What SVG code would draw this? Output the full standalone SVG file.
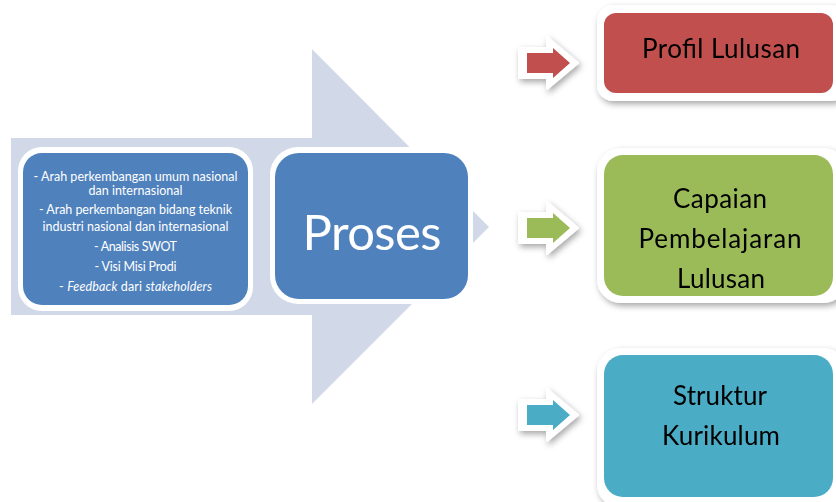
<svg xmlns="http://www.w3.org/2000/svg" width="836" height="502" viewBox="0 0 836 502">
  <defs>
    <filter id="shadow" x="-10%" y="-10%" width="130%" height="140%">
      <feDropShadow dx="2" dy="3" stdDeviation="3" flood-color="#000" flood-opacity="0.35"/>
    </filter>
    <!-- block arrow: white outline with coloured body, origin at tail centre -->
    <polygon id="arrowOutline" points="-8,-15 20,-15 20,-26 51,0 20,26 20,15 -8,15"/>
    <polygon id="arrowBody" points="0,-10 26,-10 26,-15 43,0 26,15 26,10 0,10"/>
  </defs>
  <style>
    .bg { fill: #ffffff; }
    .bigArrow { fill: #d1d9e8; }
    .frame { fill: #ffffff; }
    .blue { fill: #4f81bd; }
    .txtW { fill: #ffffff; font-family: Lato, "Open Sans", sans-serif; text-anchor: middle; }
    .txtK { fill: #000000; font-family: Lato, "Open Sans", sans-serif; text-anchor: middle; font-size: 26px; }
    .small { font-size: 12.5px; }
    .outline { fill: #ffffff; stroke: #ffffff; stroke-width: 2; stroke-linejoin: round; }
  </style>

  <rect class="bg" x="0" y="0" width="836" height="502"/>

  <!-- large background process arrow -->
  <polygon class="bigArrow" points="11,138 312,138 312,49 489,227 312,404 312,315 11,315"/>

  <!-- input node -->
  <g id="input">
    <rect class="frame" x="18" y="147" width="235" height="164" rx="24"/>
    <rect class="blue" x="23" y="153" width="225" height="152" rx="19"/>
    <text class="txtW small" x="135.5" y="181" textLength="204">- Arah perkembangan umum nasional</text>
    <text class="txtW small" x="135.5" y="194.5" textLength="94">dan internasional</text>
    <text class="txtW small" x="135.5" y="214" textLength="193">- Arah perkembangan bidang teknik</text>
    <text class="txtW small" x="135.5" y="230.5" textLength="186">industri nasional dan internasional</text>
    <text class="txtW small" x="135.5" y="250.5" textLength="83">- Analisis SWOT</text>
    <text class="txtW small" x="135.5" y="270.5" textLength="82">- Visi Misi Prodi</text>
    <text class="txtW small" x="135.5" y="290.5" textLength="153">- <tspan font-style="italic">Feedback</tspan> dari <tspan font-style="italic">stakeholders</tspan></text>
  </g>

  <!-- process node -->
  <g id="proses">
    <rect class="frame" x="270" y="147" width="203" height="157" rx="28"/>
    <rect class="blue" x="275" y="153" width="193" height="146" rx="24"/>
    <text class="txtW" x="372" y="250" font-size="49" textLength="139">Proses</text>
  </g>

  <!-- output nodes -->
  <g id="profil-lulusan" filter="url(#shadow)">
    <rect class="frame" x="597" y="5" width="250" height="96" rx="16"/>
    <rect x="604" y="13" width="229" height="80" rx="12" fill="#c0504d"/>
    <text class="txtK" x="721" y="58" textLength="158">Profil Lulusan</text>
  </g>

  <g id="capaian-pembelajaran" filter="url(#shadow)">
    <rect class="frame" x="597" y="148" width="250" height="155" rx="24"/>
    <rect x="604" y="155" width="229" height="141" rx="19" fill="#9bbb59"/>
    <text class="txtK" x="720" y="208" textLength="94">Capaian</text>
    <text class="txtK" x="720" y="248" textLength="163">Pembelajaran</text>
    <text class="txtK" x="721" y="288" textLength="88">Lulusan</text>
  </g>

  <g id="struktur-kurikulum" filter="url(#shadow)">
    <rect class="frame" x="597" y="348" width="250" height="160" rx="24"/>
    <rect x="604" y="355" width="229" height="142" rx="19" fill="#4bacc6"/>
    <text class="txtK" x="720" y="405" textLength="94">Struktur</text>
    <text class="txtK" x="721" y="445" textLength="118">Kurikulum</text>
  </g>

  <!-- connectors -->
  <g id="connectors">
    <g transform="translate(527,63)" filter="url(#shadow)">
      <use href="#arrowOutline" class="outline"/>
      <use href="#arrowBody" fill="#c0504d"/>
    </g>
    <g transform="translate(527,228)" filter="url(#shadow)">
      <use href="#arrowOutline" class="outline"/>
      <use href="#arrowBody" fill="#9bbb59"/>
    </g>
    <g transform="translate(527,415)" filter="url(#shadow)">
      <use href="#arrowOutline" class="outline"/>
      <use href="#arrowBody" fill="#4bacc6"/>
    </g>
  </g>
</svg>
